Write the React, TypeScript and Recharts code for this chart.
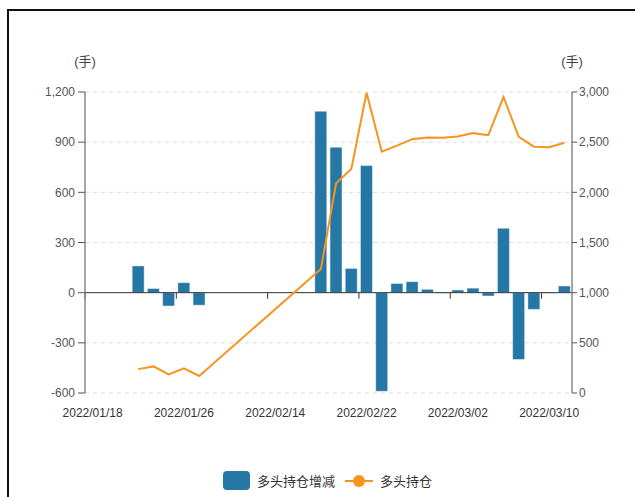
import React from "react";
import {
  ComposedChart,
  Bar,
  Line,
  XAxis,
  YAxis,
  CartesianGrid,
  ReferenceLine,
} from "recharts";

const dates = [
  "2022/01/18", "2022/01/19", "2022/01/20", "2022/01/21", "2022/01/24", "2022/01/25",
  "2022/01/26", "2022/01/27", "2022/01/28", "2022/02/09", "2022/02/10", "2022/02/11",
  "2022/02/14", "2022/02/15", "2022/02/16", "2022/02/17", "2022/02/18", "2022/02/21",
  "2022/02/22", "2022/02/23", "2022/02/24", "2022/02/25", "2022/02/28", "2022/03/01",
  "2022/03/02", "2022/03/03", "2022/03/04", "2022/03/07", "2022/03/08", "2022/03/09",
  "2022/03/10", "2022/03/11",
];

// 多头持仓增减 (left axis)
const change: (number | null)[] = [
  null, null, null, 160, 25, -80, 60, -75,
  null, null, null, null, null, null, null,
  1085, 870, 145, 760, -590, 55, 66, 20, -3, 16, 27, -20, 385, -400, -100, -3, 40,
];

// 多头持仓 (right axis)
const holding: (number | null)[] = [
  null, null, null, 238, 265, 185, 245, 170,
  null, null, null, null, null, null, null,
  1235, 2090, 2232, 2992, 2405, 2465, 2530, 2547, 2545, 2557, 2590, 2570, 2950, 2553, 2455, 2450, 2494,
];

const leftTicks = [-600, -300, 0, 300, 600, 900, 1200];
const rightTicks = [0, 500, 1000, 1500, 2000, 2500, 3000];

const BAR = "#2577A5";
const LINE = "#F7941D";
const FONT = "'Liberation Sans', 'Noto Sans CJK SC', sans-serif";

const data = dates.map((d, i) => ({ date: d, change: change[i], holding: holding[i] }));

const fmt = (v: number) => v.toLocaleString("en-US");

// zero line with category-boundary tick marks every 6 slots
const ZeroAxis = (props: any) => {
  const { x1, y1, x2 } = props;
  const n = dates.length;
  const step = (x2 - x1) / n;
  const marks = [];
  for (let k = 0; k <= n; k += 6) {
    const x = x1 + k * step;
    marks.push(<line key={k} x1={x} x2={x} y1={y1} y2={y1 + 6} stroke="#333" />);
  }
  return (
    <g>
      <line x1={x1} x2={x2} y1={y1} y2={y1} stroke="#333" />
      {marks}
    </g>
  );
};

const unitLabel = (side: "left" | "right") => (p: any) => {
  const vb = p.viewBox;
  const x = side === "left" ? vb.x + vb.width : vb.x;
  return (
    <text x={x} y={vb.y - 26} textAnchor="middle" fontSize={13} fill="#444" fontFamily={FONT}>
      (手)
    </text>
  );
};

export default function App() {
  return (
    <div style={{ position: "fixed", left: 0, top: 0, width: 635, height: 497, background: "#fff", overflow: "hidden" }}>
      <div
        style={{
          position: "absolute",
          left: 7,
          top: 9,
          width: 628,
          height: 488,
          boxSizing: "border-box",
          borderTop: "2px solid #111",
          borderLeft: "2px solid #111",
        }}
      />
      <div style={{ position: "absolute", left: 0, top: 0 }}>
        <ComposedChart
          width={635}
          height={497}
          data={data}
          margin={{ top: 92, right: 3, bottom: 74, left: 25 }}
          barCategoryGap="10%"
          style={{ fontFamily: FONT }}
        >
          <CartesianGrid yAxisId="left" vertical={false} stroke="#ddd" strokeDasharray="4 4" />
          <XAxis
            dataKey="date"
            interval={5}
            axisLine={false}
            tickLine={false}
            tickSize={6}
            tickMargin={9}
            height={30}
            tick={{ fill: "#333", fontSize: 12 }}
          />
          <YAxis
            yAxisId="left"
            orientation="left"
            width={60}
            domain={[-600, 1200]}
            ticks={leftTicks}
            tickFormatter={fmt}
            axisLine={{ stroke: "#888", strokeWidth: 1.5 }}
            tickLine={{ stroke: "#555" }}
            tickSize={7}
            tickMargin={3}
            tick={{ fill: "#555", fontSize: 12 }}
            label={{ content: unitLabel("left") }}
          />
          <YAxis
            yAxisId="right"
            orientation="right"
            width={60}
            domain={[0, 3000]}
            ticks={rightTicks}
            tickFormatter={fmt}
            axisLine={{ stroke: "#888", strokeWidth: 1.5 }}
            tickLine={{ stroke: "#555" }}
            tickSize={5}
            tickMargin={2}
            tick={{ fill: "#555", fontSize: 12 }}
            label={{ content: unitLabel("right") }}
          />
          <Bar
            yAxisId="left"
            dataKey="change"
            fill={BAR}
            stroke="rgba(255,255,255,0.45)"
            isAnimationActive={false}
          />
          <ReferenceLine yAxisId="left" y={0} shape={ZeroAxis} />
          <Line
            yAxisId="right"
            dataKey="holding"
            type="linear"
            stroke={LINE}
            strokeWidth={2}
            dot={false}
            connectNulls
            isAnimationActive={false}
          />
        </ComposedChart>
      </div>
      <div
        style={{
          position: "absolute",
          left: 223,
          top: 471,
          display: "flex",
          alignItems: "center",
          fontFamily: FONT,
          fontSize: 13,
          color: "#333",
        }}
      >
        <span style={{ width: 27, height: 19, background: BAR, borderRadius: 4, display: "inline-block" }} />
        <span style={{ marginLeft: 7 }}>多头持仓增减</span>
        <svg width={28} height={14} style={{ marginLeft: 10 }}>
          <line x1={0} x2={28} y1={7} y2={7} stroke={LINE} strokeWidth={2} />
          <circle cx={14} cy={7} r={6} fill={LINE} />
        </svg>
        <span style={{ marginLeft: 7 }}>多头持仓</span>
      </div>
    </div>
  );
}
